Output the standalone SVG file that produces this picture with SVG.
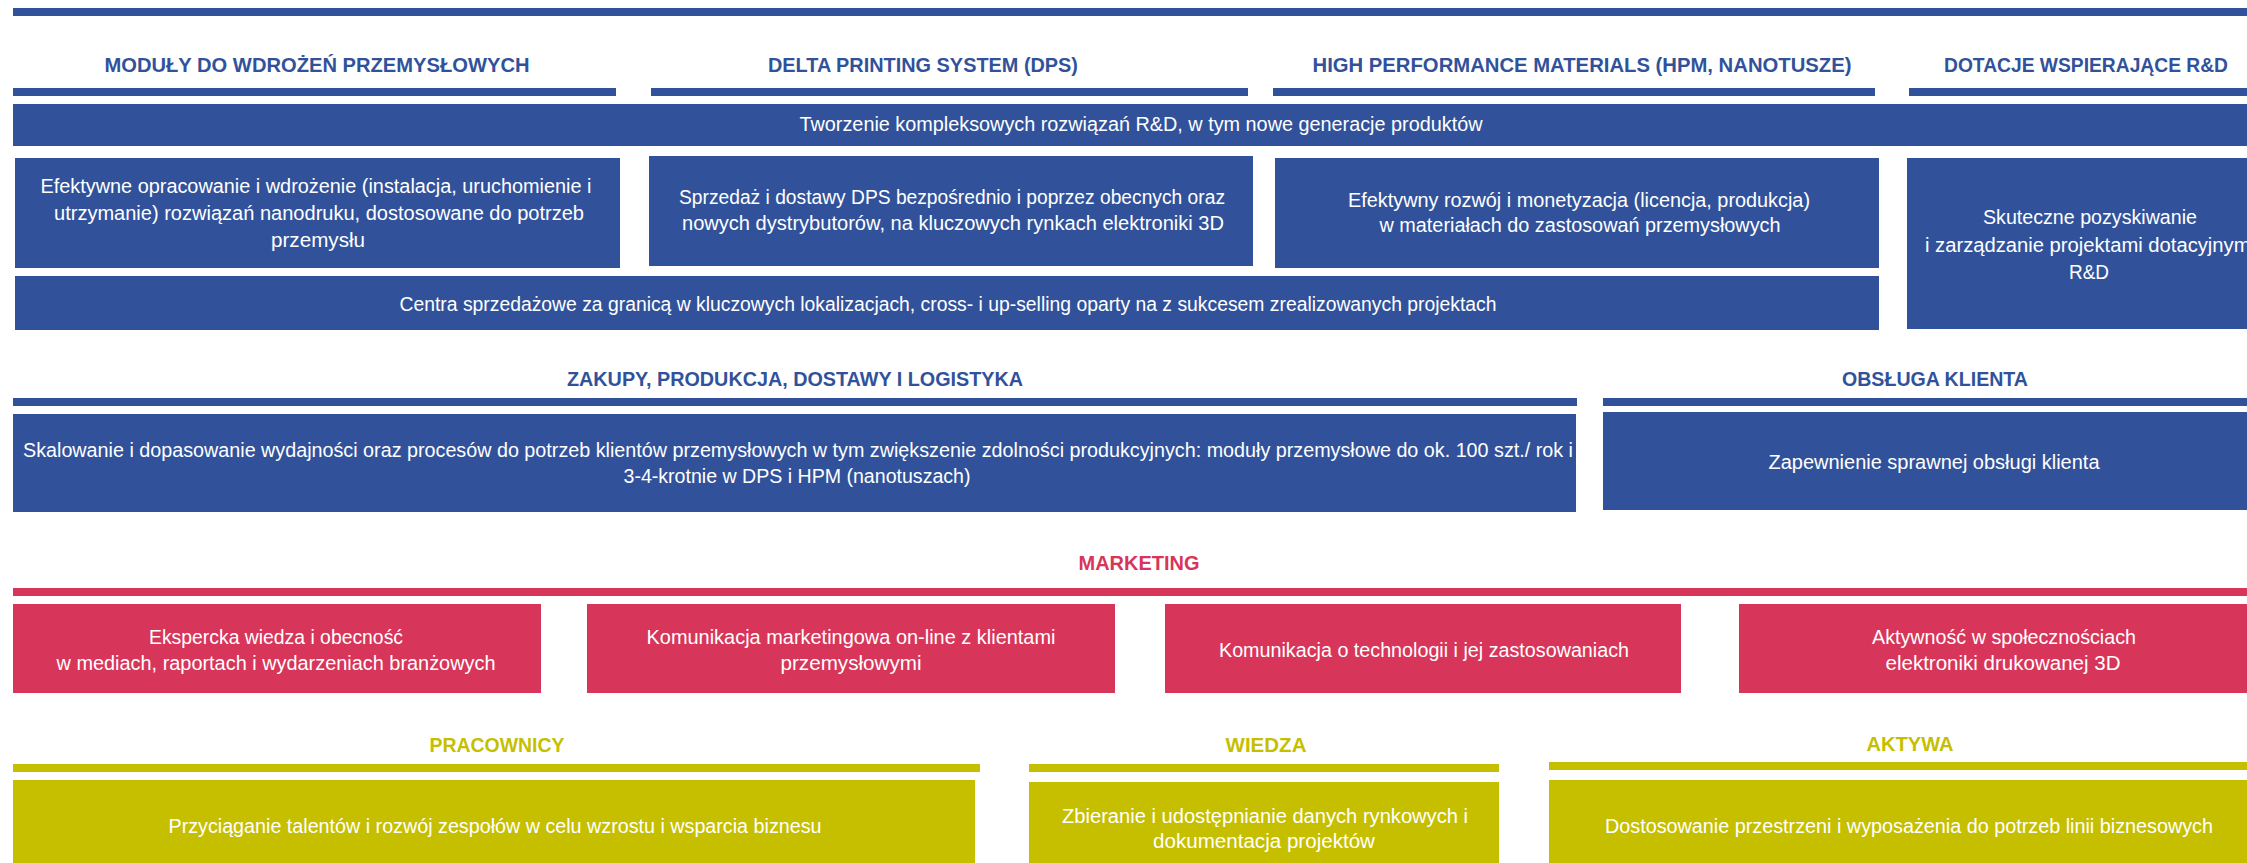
<svg xmlns="http://www.w3.org/2000/svg" width="2247" height="863" viewBox="0 0 2247 863">
<style>
.b{fill:#31529B}
.p{fill:#D8355A}
.o{fill:#C6BF00}
text{font-family:"Liberation Sans",Arial,sans-serif;text-anchor:middle}
.t{fill:#FFFFFF;font-size:19.5px}
.h{font-weight:bold;font-size:21px}
.hb{fill:#31529B}
.hp{fill:#D8355A}
.ho{fill:#C6BF00}
</style>
<rect width="2247" height="863" fill="#FFFFFF"/>
<g id="connectors">
<rect class="b" x="13" y="8" width="2234" height="8"/>
</g>
<g id="h-moduly"><rect class="b" x="13" y="88" width="603" height="8"/><text class="h hb" x="317" y="72" textLength="425" lengthAdjust="spacingAndGlyphs">MODUŁY DO WDROŻEŃ PRZEMYSŁOWYCH</text></g>
<g id="h-dps"><rect class="b" x="651" y="88" width="597" height="8"/><text class="h hb" x="923" y="72" textLength="310" lengthAdjust="spacingAndGlyphs">DELTA PRINTING SYSTEM (DPS)</text></g>
<g id="h-hpm"><rect class="b" x="1273" y="88" width="602" height="8"/><text class="h hb" x="1582" y="72" textLength="539" lengthAdjust="spacingAndGlyphs">HIGH PERFORMANCE MATERIALS  (HPM, NANOTUSZE)</text></g>
<g id="h-dotacje"><rect class="b" x="1909" y="88" width="338" height="8"/><text class="h hb" x="2086" y="72" textLength="284" lengthAdjust="spacingAndGlyphs">DOTACJE WSPIERAJĄCE R&amp;D</text></g>
<g id="n-tworzenie"><rect class="b" x="13" y="104" width="2234" height="42"/><text class="t" x="1141" y="131" textLength="683" lengthAdjust="spacingAndGlyphs">Tworzenie kompleksowych rozwiązań R&amp;D, w tym nowe generacje produktów</text></g>
<g id="n-efektywne"><rect class="b" x="15" y="158" width="605" height="110"/>
<text class="t" x="316" y="193" textLength="551" lengthAdjust="spacingAndGlyphs">Efektywne opracowanie i wdrożenie (instalacja, uruchomienie i</text>
<text class="t" x="319" y="220" textLength="530" lengthAdjust="spacingAndGlyphs">utrzymanie) rozwiązań nanodruku, dostosowane do potrzeb</text>
<text class="t" x="318" y="247" textLength="94" lengthAdjust="spacingAndGlyphs">przemysłu</text></g>
<g id="n-sprzedaz"><rect class="b" x="649" y="156" width="604" height="110"/>
<text class="t" x="952" y="204" textLength="546" lengthAdjust="spacingAndGlyphs">Sprzedaż i dostawy DPS bezpośrednio i poprzez obecnych oraz</text>
<text class="t" x="953" y="230" textLength="542" lengthAdjust="spacingAndGlyphs">nowych dystrybutorów, na kluczowych rynkach elektroniki 3D</text></g>
<g id="n-rozwoj"><rect class="b" x="1275" y="158" width="604" height="110"/>
<text class="t" x="1579" y="207" textLength="462" lengthAdjust="spacingAndGlyphs">Efektywny rozwój i monetyzacja (licencja, produkcja)</text>
<text class="t" x="1580" y="232" textLength="401" lengthAdjust="spacingAndGlyphs">w materiałach do zastosowań przemysłowych</text></g>
<g id="n-skuteczne"><rect class="b" x="1907" y="158" width="340" height="171"/>
<text class="t" x="2090" y="224" textLength="214" lengthAdjust="spacingAndGlyphs">Skuteczne pozyskiwanie</text>
<text class="t" x="2090" y="252" textLength="330" lengthAdjust="spacingAndGlyphs">i zarządzanie projektami dotacyjnymi</text>
<text class="t" x="2089" y="279" textLength="40" lengthAdjust="spacingAndGlyphs">R&amp;D</text></g>
<g id="n-centra"><rect class="b" x="15" y="276" width="1864" height="54"/>
<text class="t" x="948" y="311" textLength="1097" lengthAdjust="spacingAndGlyphs">Centra sprzedażowe za granicą w kluczowych lokalizacjach, cross- i up-selling oparty na z sukcesem zrealizowanych projektach</text></g>
<g id="h-zakupy"><rect class="b" x="13" y="398" width="1564" height="8"/><text class="h hb" x="795" y="386" textLength="456" lengthAdjust="spacingAndGlyphs">ZAKUPY, PRODUKCJA, DOSTAWY I LOGISTYKA</text></g>
<g id="h-obsluga"><rect class="b" x="1603" y="398" width="644" height="8"/><text class="h hb" x="1935" y="386" textLength="186" lengthAdjust="spacingAndGlyphs">OBSŁUGA KLIENTA</text></g>
<g id="n-skalowanie"><rect class="b" x="13" y="414" width="1563" height="98"/>
<text class="t" x="798" y="457" textLength="1550" lengthAdjust="spacingAndGlyphs">Skalowanie i dopasowanie wydajności oraz procesów do potrzeb klientów przemysłowych w tym zwiększenie zdolności produkcyjnych: moduły przemysłowe do ok. 100 szt./ rok i</text>
<text class="t" x="797" y="483" textLength="347" lengthAdjust="spacingAndGlyphs">3-4-krotnie w DPS i HPM (nanotuszach)</text></g>
<g id="n-zapewnienie"><rect class="b" x="1603" y="412" width="644" height="98"/>
<text class="t" x="1934" y="469" textLength="331" lengthAdjust="spacingAndGlyphs">Zapewnienie sprawnej obsługi klienta</text></g>
<g id="h-marketing"><rect class="p" x="13" y="588" width="2234" height="8"/><text class="h hp" x="1139" y="570" textLength="121" lengthAdjust="spacingAndGlyphs">MARKETING</text></g>
<g id="n-ekspercka"><rect class="p" x="13" y="604" width="528" height="89"/>
<text class="t" x="276" y="644" textLength="254" lengthAdjust="spacingAndGlyphs">Ekspercka wiedza i obecność</text>
<text class="t" x="276" y="670" textLength="439" lengthAdjust="spacingAndGlyphs">w mediach, raportach i wydarzeniach branżowych</text></g>
<g id="n-komunikacja1"><rect class="p" x="587" y="604" width="528" height="89"/>
<text class="t" x="851" y="644" textLength="409" lengthAdjust="spacingAndGlyphs">Komunikacja marketingowa on-line z klientami</text>
<text class="t" x="851" y="670" textLength="141" lengthAdjust="spacingAndGlyphs">przemysłowymi</text></g>
<g id="n-komunikacja2"><rect class="p" x="1165" y="604" width="516" height="89"/>
<text class="t" x="1424" y="657" textLength="410" lengthAdjust="spacingAndGlyphs">Komunikacja o technologii i jej zastosowaniach</text></g>
<g id="n-aktywnosc"><rect class="p" x="1739" y="604" width="508" height="89"/>
<text class="t" x="2004" y="644" textLength="264" lengthAdjust="spacingAndGlyphs">Aktywność w społecznościach</text>
<text class="t" x="2003" y="670" textLength="235" lengthAdjust="spacingAndGlyphs">elektroniki drukowanej 3D</text></g>
<g id="h-pracownicy"><rect class="o" x="13" y="764" width="967" height="8"/><text class="h ho" x="497" y="752" textLength="135" lengthAdjust="spacingAndGlyphs">PRACOWNICY</text></g>
<g id="h-wiedza"><rect class="o" x="1029" y="764" width="470" height="8"/><text class="h ho" x="1266" y="752" textLength="81" lengthAdjust="spacingAndGlyphs">WIEDZA</text></g>
<g id="h-aktywa"><rect class="o" x="1549" y="762" width="698" height="8"/><text class="h ho" x="1910" y="751" textLength="87" lengthAdjust="spacingAndGlyphs">AKTYWA</text></g>
<g id="n-przyciaganie"><rect class="o" x="13" y="780" width="962" height="83"/>
<text class="t" x="495" y="833" textLength="653" lengthAdjust="spacingAndGlyphs">Przyciąganie talentów i rozwój zespołów w celu wzrostu i wsparcia biznesu</text></g>
<g id="n-zbieranie"><rect class="o" x="1029" y="782" width="470" height="81"/>
<text class="t" x="1265" y="823" textLength="406" lengthAdjust="spacingAndGlyphs">Zbieranie i udostępnianie danych rynkowych i</text>
<text class="t" x="1264" y="848" textLength="222" lengthAdjust="spacingAndGlyphs">dokumentacja projektów</text></g>
<g id="n-dostosowanie"><rect class="o" x="1549" y="780" width="698" height="83"/>
<text class="t" x="1909" y="833" textLength="608" lengthAdjust="spacingAndGlyphs">Dostosowanie przestrzeni i wyposażenia do potrzeb linii biznesowych</text></g>
</svg>
